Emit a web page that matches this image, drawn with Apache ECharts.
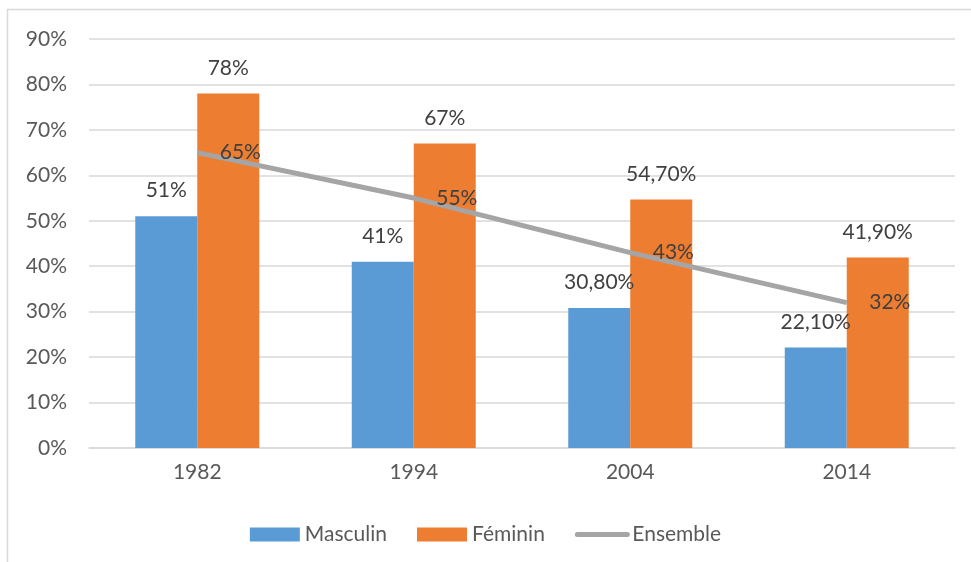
<!DOCTYPE html>
<html><head><meta charset="utf-8">
<script src="https://cdn.jsdelivr.net/npm/echarts@6/dist/echarts.min.js"></script>
<style>html,body{margin:0;padding:0;background:#fff}#c{width:971px;height:562px}</style>
</head><body><div id="c"></div>
<script>
const categories = ['1982', '1994', '2004', '2014'];
const masculin = [51, 41, 30.8, 22.1];
const feminin = [78, 67, 54.7, 41.9];
const ensemble = [65, 55, 43, 32];
const yTicks = [0, 10, 20, 30, 40, 50, 60, 70, 80, 90];

const FONT = 'Lato';
const FS = 21;
const fmt = v => (Number.isInteger(v) ? String(v) : v.toFixed(2).replace('.', ',')) + '%';

const chart = echarts.init(document.getElementById('c'));
chart.setOption({
  animation: false,
  textStyle: { fontFamily: FONT },
  graphic: [{
    type: 'rect', shape: { x: 7.5, y: 9.5, width: 1000, height: 600 },
    style: { fill: 'none', stroke: '#d9d9d9', lineWidth: 1.5 }, silent: true
  }],
  grid: { left: 89, right: 16, top: 39, bottom: 114 },
  legend: {
    bottom: 12, left: 'center', itemWidth: 50, itemHeight: 14, itemGap: 30,
    textStyle: { fontSize: FS, color: '#595959', fontFamily: FONT },
    data: [
      { name: 'Masculin', icon: 'rect' },
      { name: 'Féminin', icon: 'rect' },
      { name: 'Ensemble', lineStyle: { width: 5, cap: 'round', color: '#A5A5A5' } }
    ]
  },
  xAxis: {
    type: 'category', data: categories,
    axisLine: { lineStyle: { color: '#d9d9d9', width: 1.5 } },
    axisTick: { show: false },
    axisLabel: { fontSize: FS, color: '#595959', margin: 14 }
  },
  yAxis: {
    type: 'value', min: yTicks[0], max: yTicks[yTicks.length - 1], interval: 10,
    axisLine: { show: false }, axisTick: { show: false },
    splitLine: { lineStyle: { color: '#d9d9d9', width: 1.5 } },
    axisLabel: { fontSize: FS, color: '#595959', margin: 22, formatter: v => v + '%' }
  },
  series: [
    {
      name: 'Masculin', type: 'bar', data: masculin, barWidth: 62, barGap: '0%',
      itemStyle: { color: '#5B9BD5' },
      label: { show: true, position: 'top', distance: 15, fontSize: FS, color: '#404040', formatter: p => fmt(p.value) }
    },
    {
      name: 'Féminin', type: 'bar', data: feminin, barWidth: 62, barGap: '0%',
      itemStyle: { color: '#ED7D31' },
      label: { show: true, position: 'top', distance: 15, fontSize: FS, color: '#404040', formatter: p => fmt(p.value) }
    },
    {
      name: 'Ensemble', type: 'line', data: ensemble, z: 5,
      showSymbol: true, symbol: 'circle', symbolSize: 1,
      lineStyle: { color: '#A5A5A5', width: 5 },
      itemStyle: { color: 'rgba(165,165,165,0)' },
      label: { show: true, position: 'right', distance: 22, fontSize: FS, color: '#404040', formatter: p => fmt(p.value) }
    }
  ]
});
</script></body></html>
